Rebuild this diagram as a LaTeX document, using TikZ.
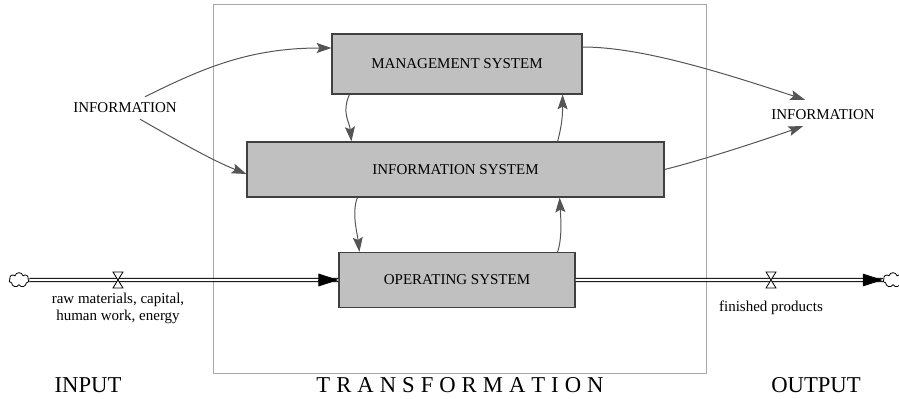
\documentclass[tikz,border=0pt]{standalone}
\usepackage{fontspec}
\setmainfont{Liberation Serif}
\usetikzlibrary{arrows.meta,shapes.symbols,calc}

\definecolor{linkgray}{HTML}{555555}
\definecolor{boxgray}{HTML}{C0C0C0}
\definecolor{framegray}{HTML}{A8A8A8}
\newcommand{\lgap}{\kern4.5pt}

\tikzset{every picture/.style={line width=0.75pt},
	sysbox/.style={draw=black!75, fill=boxgray, line width=0.9pt, font=\fontsize{11.25}{13}\selectfont, inner sep=0pt},
	link/.style={draw=linkgray, line width=0.75pt, -{Stealth[length=11pt,width=7.5pt,inset=2pt,fill=linkgray]}},
	pipe/.style={double, double distance=1.6pt, line width=0.75pt},
	pipetip/.style={line width=0.7pt, -{Triangle[length=15pt,width=9.5pt]}},
	valve/.style={draw, fill=white, line width=0.6pt},
	lbl/.style={font=\fontsize{11.25}{12.75}\selectfont, inner sep=2pt, align=center},
	biglbl/.style={font=\fontsize{17}{20}\selectfont, inner sep=0pt},
	srccloud/.style={cloud, cloud puffs=7, draw, line width=0.6pt, minimum width=15pt, minimum height=11pt, inner sep=0pt}
}

\begin{document}
\begin{tikzpicture}[x=0.75pt,y=0.75pt,yscale=-1,xscale=1]
	\useasboundingbox (0,0) rectangle (899,399);

	%Shape: Rectangle [transformation frame]
	\draw [draw=framegray] (213,5) rectangle (706,373);

	%Shape: Boxes
	\node [sysbox, minimum width=187.5pt, minimum height=45pt] (mgmt) at (457,64) {MANAGEMENT SYSTEM};
	\node [sysbox, minimum width=312.75pt, minimum height=41.25pt] (infosys) at (455.5,169.5) {INFORMATION SYSTEM};
	\node [sysbox, minimum width=177pt, minimum height=41.25pt] (opsys) at (457,280) {OPERATING SYSTEM};

	% Text Node
	\node [lbl] (infoin) at (125,108) {INFORMATION};
	% Text Node
	\node [lbl] (infoout) at (823,115) {INFORMATION};

	%Curve Lines
	\draw [link] ($(infoin.north)+(20,-3)$) .. controls +(60,-30) and +(-80,0) .. ($(mgmt.west)+(0,-16)$);
	\draw [link] ($(infoin.south)+(15,3)$) .. controls +(35,20) and +(-35,-14) .. ($(infosys.west)+(0,4.5)$);
	\draw [link] ($(mgmt.south west)+(18,0)$) .. controls +(-8,18) and +(-2,-20) .. ($(infosys.north west)+(105,0)$);
	\draw [link] ($(infosys.north east)+(-107,0)$) .. controls +(4,-15) and +(0,22) .. ($(mgmt.south east)+(-20,0)$);
	\draw [link] ($(mgmt.east)+(0,-17)$) .. controls +(58,0) and +(-85,-28) .. ($(infoout.north)+(-18,-7)$);
	\draw [link] (infosys.east) .. controls +(40,-10) and +(-40,14) .. ($(infoout.south)+(-20,3)$);
	\draw [link] ($(infosys.south west)+(111,0)$) .. controls +(-6,15) and +(-2,-18) .. ($(opsys.north west)+(21,0)$);
	\draw [link] ($(opsys.north east)+(-18,0)$) .. controls +(5,-15) and +(1,18) .. ($(infosys.south east)+(-105,0)$);

	%Shape: Flow pipes
	\node [srccloud] (cloudin) at (19,280) {};
	\node [srccloud] (cloudout) at (893,280) {};
	\draw [pipe] (cloudin.east) -- (opsys.west);
	\draw [pipetip] ($(opsys.west)+(-20,0)$) -- (opsys.west);
	\draw [pipe] (opsys.east) -- (cloudout.west);
	\draw [pipetip] ($(cloudout.west)+(-20,0)$) -- (cloudout.west);
	\foreach \vx in {118,771}
		\draw [valve] (\vx-5,272) -- (\vx+5,272) -- (\vx-5,288) -- (\vx+5,288) -- cycle;

	% Text Node
	\node [lbl] (rawlbl) at (118,308) {raw materials, capital,\\human work, energy};
	% Text Node
	\node [lbl] (finlbl) at (771,308) {finished products};

	% Text Node
	\node [biglbl] (inlbl) at (88,385) {INPUT};
	% Text Node
	\node [biglbl] (translbl) at (460,385) {T\lgap R\lgap A\lgap N\lgap S\lgap F\lgap O\lgap R\lgap M\lgap A\lgap T\lgap I\lgap O\lgap N};
	% Text Node
	\node [biglbl] (outlbl) at (816,385) {OUTPUT};

\end{tikzpicture}
\end{document}
